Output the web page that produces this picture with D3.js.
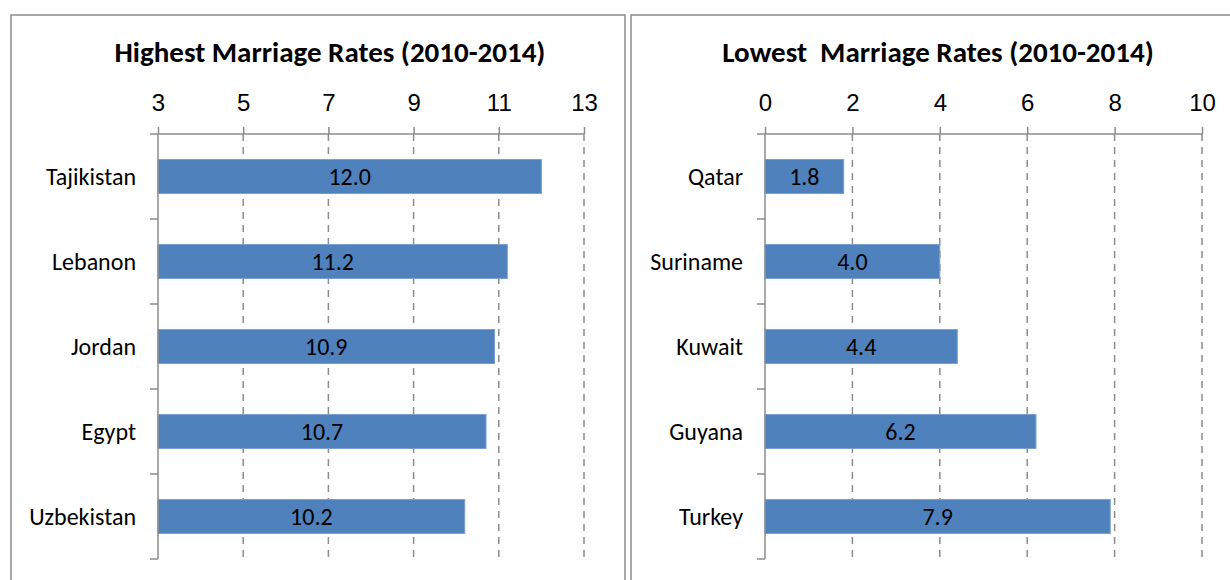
<!DOCTYPE html>
<html>
<head>
<meta charset="utf-8">
<script src="https://cdn.jsdelivr.net/npm/d3@7"></script>
<style>
  body { margin: 0; background: #fff; }
  svg { display: block; font-family: Carlito, Calibri, Lato, "Open Sans", sans-serif; }
</style>
</head>
<body>
<svg id="chart" width="1230" height="580"></svg>
<script>
// data
const highCountries = ["Tajikistan", "Lebanon", "Jordan", "Egypt", "Uzbekistan"];
const highRates = [12.0, 11.2, 10.9, 10.7, 10.2];
const highTicks = [3, 5, 7, 9, 11, 13];

const lowCountries = ["Qatar", "Suriname", "Kuwait", "Guyana", "Turkey"];
const lowRates = [1.8, 4.0, 4.4, 6.2, 7.9];
const lowTicks = [0, 2, 4, 6, 8, 10];

const svg = d3.select("#chart");

// panel frames
svg.append("rect").attr("x", 11).attr("y", 15).attr("width", 614).attr("height", 600)
  .attr("fill", "none").attr("stroke", "#8c8c8c").attr("stroke-width", 1.5);
svg.append("rect").attr("x", 631).attr("y", 15).attr("width", 620).attr("height", 600)
  .attr("fill", "none").attr("stroke", "#8c8c8c").attr("stroke-width", 1.5);

function drawPanel(opts) {
  const g = svg.append("g");
  const top = 134, bottom = 559;

  const x = d3.scaleLinear().domain(d3.extent(opts.ticks)).range([opts.x0, opts.x1]);
  const y = d3.scaleBand().domain(opts.cats).range([top, bottom])
    .paddingInner(0.6).paddingOuter(0.3);

  // title
  g.append("text")
    .attr("x", opts.titleX).attr("y", 62)
    .attr("text-anchor", "middle")
    .style("font-size", "29px").style("font-weight", "bold")
    .attr("fill", "#000")
    .attr("xml:space", "preserve")
    .text(opts.title);

  // dashed gridlines
  g.selectAll(".grid").data(opts.ticks.slice(1)).enter().append("line")
    .attr("x1", d => x(d)).attr("x2", d => x(d))
    .attr("y1", top).attr("y2", bottom)
    .attr("stroke", "#8c8c8c").attr("stroke-width", 1.5)
    .attr("stroke-dasharray", "7,6");

  // bars
  g.selectAll(".bar").data(opts.vals).enter().append("rect")
    .attr("x", x(opts.ticks[0]))
    .attr("y", (d, i) => y(opts.cats[i]))
    .attr("width", d => x(d) - x(opts.ticks[0]))
    .attr("height", y.bandwidth())
    .attr("fill", "#4f81bd")
    .attr("stroke", "#7a9fd0").attr("stroke-width", 1);

  // value labels
  g.selectAll(".val").data(opts.vals).enter().append("text")
    .attr("x", d => (x(d) + x(opts.ticks[0])) / 2)
    .attr("y", (d, i) => y(opts.cats[i]) + y.bandwidth() / 2)
    .attr("dy", "0.35em")
    .attr("text-anchor", "middle")
    .style("font-size", "24px").attr("fill", "#000")
    .text(d => d.toFixed(1));

  // top axis
  const ax = g.append("g").attr("transform", `translate(0,${top})`)
    .call(d3.axisTop(x).tickValues(opts.ticks).tickSize(7).tickSizeOuter(0).tickPadding(16));
  ax.select(".domain").remove();
  ax.selectAll(".tick line").attr("stroke", "#8c8c8c").attr("stroke-width", 1.5);
  ax.selectAll(".tick text").style("font-size", "24px").attr("fill", "#000")
    .style("font-family", "inherit");
  g.append("line").attr("x1", opts.x0 - 8).attr("x2", opts.x1)
    .attr("y1", top).attr("y2", top)
    .attr("stroke", "#8c8c8c").attr("stroke-width", 1.5);

  // left axis with category boundary ticks
  g.append("line").attr("x1", opts.x0).attr("x2", opts.x0)
    .attr("y1", top).attr("y2", bottom)
    .attr("stroke", "#8c8c8c").attr("stroke-width", 1.5);
  const bounds = d3.range(opts.cats.length + 1).map(i => top + i * y.step());
  g.selectAll(".ytick").data(bounds.slice(1)).enter().append("line")
    .attr("x1", opts.x0 - 8).attr("x2", opts.x0)
    .attr("y1", d => d).attr("y2", d => d)
    .attr("stroke", "#8c8c8c").attr("stroke-width", 1.5);

  g.selectAll(".cat").data(opts.cats).enter().append("text")
    .attr("x", opts.x0 - 22)
    .attr("y", d => y(d) + y.bandwidth() / 2)
    .attr("dy", "0.35em")
    .attr("text-anchor", "end")
    .style("font-size", "24px").attr("fill", "#000")
    .text(d => d);
}

drawPanel({
  title: "Highest Marriage Rates (2010-2014)", titleX: 330,
  cats: highCountries, vals: highRates, ticks: highTicks,
  x0: 158, x1: 584
});
drawPanel({
  title: "Lowest  Marriage Rates (2010-2014)", titleX: 938,
  cats: lowCountries, vals: lowRates, ticks: lowTicks,
  x0: 765, x1: 1202
});
</script>
</body>
</html>
